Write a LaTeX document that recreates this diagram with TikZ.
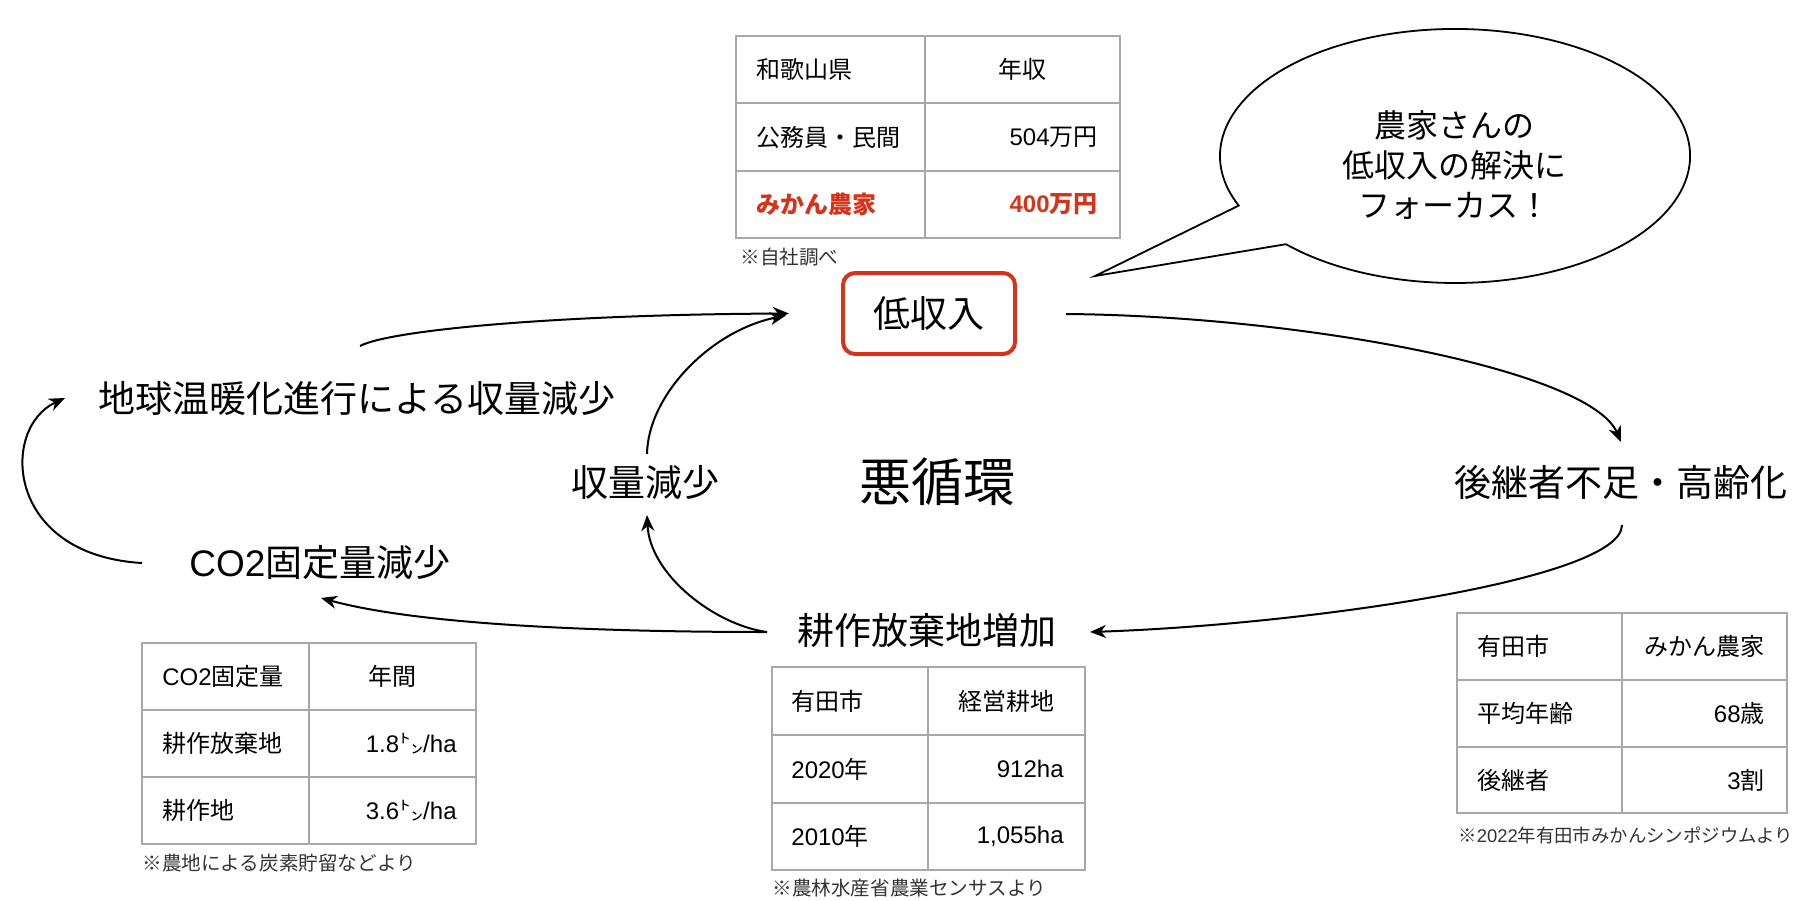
\documentclass[tikz,border=0pt]{standalone}
\usepackage{fontspec}
\setmainfont{Noto Sans CJK JP}
\newfontfamily\lat{Liberation Sans}
\usetikzlibrary{arrows.meta}
\definecolor{redc}{RGB}{214,52,26}
\definecolor{gridc}{RGB}{168,168,168}
\begin{document}
\begin{tikzpicture}[x=0.5pt,y=-0.5pt,
  lbl/.style={inner sep=0pt, font=\fontsize{18.5}{22}\selectfont},
  cell/.style={inner sep=0pt, font=\fontsize{12}{14}\selectfont},
  redcell/.style={inner sep=0pt, text=redc, font=\fontsize{12}{14}\selectfont\bfseries},
  note/.style={inner sep=0pt, anchor=west, font=\fontsize{9.8}{11}\selectfont, text=black!80},
  tbl/.style={draw=gridc, line width=1pt},
  arr/.style={line width=1pt, -{Stealth[length=8pt,width=6.5pt,inset=2.5pt]}},
]
\useasboundingbox[fill=white] (0,0) rectangle (1809,900);

% ---------- main labels ----------
\node[lbl] (warm) at (357,398) {地球温暖化進行による収量減少};
\node[inner sep=0pt, font=\fontsize{26}{30}\selectfont] (vicious) at (937,482) {悪循環};
\node[lbl] (yield) at (645,482) {収量減少};
\node[lbl] (succ) at (1621,482) {後継者不足・高齢化};
\node[lbl] (co2) at (320,563) {{\lat CO2}固定量減少};
\node[lbl] (aband) at (927,630) {耕作放棄地増加};
\node[lbl, draw=redc, line width=2pt, rounded corners=6pt,
      minimum width=86pt, minimum height=40.5pt] (low) at (929,313.5) {低収入};

% ---------- speech bubble ----------
\draw[line width=0.9pt] (1238.7,205.6) arc[start angle=157, end angle=496, x radius=235, y radius=127]
  -- (1095,276) -- cycle;
\node[align=center, inner sep=0pt, font=\fontsize{16}{20}\selectfont] (bubtxt) at (1454,165)
  {農家さんの\\低収入の解決に\\フォーカス！};

% ---------- arrows ----------
\draw[arr] ([shift={(3,-52)}]warm.center) .. controls +(30,-16) and +(-231,1) .. ([shift={(-52,0)}]low.west);
\draw[arr] ([shift={(2,-28)}]yield.center) .. controls +(1,-59) and +(-75,15) .. ([shift={(-55,2)}]low.west);
\draw[arr] ([shift={(49,0.5)}]low.east) .. controls +(236,2) and +(-31,-72) .. ([shift={(0,-40)}]succ.center);
\draw[arr] ([shift={(1,43)}]succ.center) .. controls +(0,55) and +(210,-7) .. ([shift={(163,2)}]aband.center);
\draw[arr] ([shift={(-160,2)}]aband.center) .. controls +(-167,0) and +(99,27) .. ([shift={(1,35)}]co2.center);
\draw[arr] ([shift={(-160,2)}]aband.center) .. controls +(-52,-7) and +(3,60) .. ([shift={(2,33)}]yield.center);
\draw[arr] ([shift={(-178,0)}]co2.center) .. controls +(-137,-8) and +(-65,30) .. ([shift={(-292,0)}]warm.center);

% ---------- top table ----------
\draw[tbl] (736,36) rectangle (1120,238);
\draw[tbl] (925,36) -- (925,238) (736,103) -- (1120,103) (736,171) -- (1120,171);
\node[cell, anchor=west] (t1a) at (756,69.5) {和歌山県};
\node[cell] (t1b) at (1022,69.5) {年収};
\node[cell, anchor=west] (t1c) at (756,137) {公務員・民間};
\node[cell, anchor=east] (t1d) at (1098,137) {{\lat 504}万円};
\node[redcell, anchor=west] (t1e) at (756,204.5) {みかん農家};
\node[redcell, anchor=east] (t1f) at (1098,204.5) {{\lat\bfseries 400}万円};
\node[note] (n1) at (740,257) {※自社調べ};

% ---------- right table ----------
\draw[tbl] (1457,613) rectangle (1787,813);
\draw[tbl] (1622,613) -- (1622,813) (1457,680) -- (1787,680) (1457,747) -- (1787,747);
\node[cell, anchor=west] (t2a) at (1477,646.5) {有田市};
\node[cell] (t2b) at (1704.5,646.5) {みかん農家};
\node[cell, anchor=west] (t2c) at (1477,713.5) {平均年齢};
\node[cell, anchor=east] (t2d) at (1765,713.5) {{\lat 68}歳};
\node[cell, anchor=west] (t2e) at (1477,780) {後継者};
\node[cell, anchor=east] (t2f) at (1765,780) {{\lat 3}割};
\node[note, font=\fontsize{9.2}{11}\selectfont] (n2) at (1458,835) {※{\lat 2022}年有田市みかんシンポジウムより};

% ---------- left table ----------
\draw[tbl] (142,643) rectangle (476,844);
\draw[tbl] (309,643) -- (309,844) (142,710) -- (476,710) (142,777) -- (476,777);
\node[cell, anchor=west] (t3a) at (162,676.5) {{\lat CO2}固定量};
\node[cell] (t3b) at (392.5,676.5) {年間};
\node[cell, anchor=west] (t3c) at (162,743.5) {耕作放棄地};
\node[cell, anchor=east] (t3d) at (457,743.5) {{\lat 1.8}㌧{\lat /ha}};
\node[cell, anchor=west] (t3e) at (162,810.5) {耕作地};
\node[cell, anchor=east] (t3f) at (457,810.5) {{\lat 3.6}㌧{\lat /ha}};
\node[note] (n3) at (142,863) {※農地による炭素貯留などより};

% ---------- middle table ----------
\draw[tbl] (772,667) rectangle (1085,870);
\draw[tbl] (928,667) -- (928,870) (772,735) -- (1085,735) (772,803) -- (1085,803);
\node[cell, anchor=west] (t4a) at (791,701) {有田市};
\node[cell] (t4b) at (1006.5,701) {経営耕地};
\node[cell, anchor=west] (t4c) at (791,769) {{\lat 2020}年};
\node[cell, anchor=east] (t4d) at (1064,769) {{\lat 912ha}};
\node[cell, anchor=west] (t4e) at (791,836.5) {{\lat 2010}年};
\node[cell, anchor=east] (t4f) at (1064,836.5) {{\lat 1,055ha}};
\node[note] (n4) at (772,888) {※農林水産省農業センサスより};
\end{tikzpicture}
\end{document}
